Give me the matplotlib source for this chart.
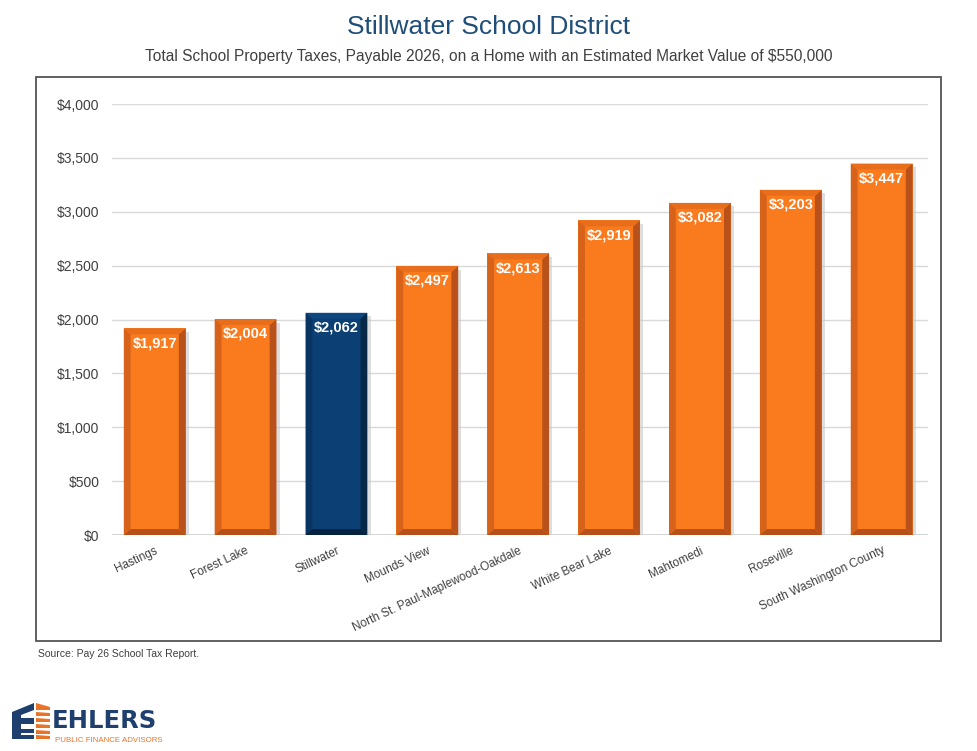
import matplotlib
matplotlib.use("Agg")
import matplotlib.pyplot as plt
from matplotlib.patches import Polygon, Rectangle

categories = ["Hastings", "Forest Lake", "Stillwater", "Mounds View",
              "North St. Paul-Maplewood-Oakdale", "White Bear Lake",
              "Mahtomedi", "Roseville", "South Washington County"]
values = [1917, 2004, 2062, 2497, 2613, 2919, 3082, 3203, 3447]
highlight = "Stillwater"
yticks = [0, 500, 1000, 1500, 2000, 2500, 3000, 3500, 4000]

plt.rcParams['font.family'] = ['Liberation Sans', 'DejaVu Sans']

fig = plt.figure(figsize=(9.77, 7.51), dpi=100)
fig.patch.set_facecolor("white")

# outer frame
fig.patches.append(Rectangle((36/977, 1-641/751), (941-36)/977, (641-77)/751,
                             transform=fig.transFigure, fill=False,
                             edgecolor="#555555", linewidth=1.3))

ax = fig.add_axes([112/977, 1-535/751, (928-112)/977, (535-104)/751])
ax.set_xlim(-0.47, len(categories) - 0.49)
ax.set_ylim(0, 4000)
ax.set_yticks(yticks)
ax.set_yticklabels([f"${v:,}" for v in yticks], color="#404040", fontsize=10)
ax.grid(axis="y", color="#D9D9D9", linewidth=1)
ax.set_axisbelow(True)
for s in ax.spines.values():
    s.set_visible(False)
ax.tick_params(axis="y", length=0, pad=9)
ax.tick_params(axis="x", length=0, pad=7)
ax.set_xticks(range(len(categories)))
ax.set_xticklabels(categories, rotation=25, ha="right", rotation_mode="anchor",
                   color="#404040", fontsize=8.5)
ax.axhline(0, color="#D0D0D0", linewidth=1.2, zorder=1)

w = 0.68
bx = 0.075   # bevel width in category units
by = 55      # bevel height in data units
for i, (c, v) in enumerate(zip(categories, values)):
    if c == highlight:
        main, left, right, top, bot = "#0C3F73", "#0A3461", "#072847", "#0E4680", "#062240"
    else:
        main, left, right, top, bot = "#FA7A1E", "#D7631A", "#B8521A", "#E86E1C", "#B5501A"
    x0, x1 = i - w/2, i + w/2
    # shadow
    ax.add_patch(Rectangle((x1, 0), 0.035, v - by*0.6, facecolor="#C9C9C9",
                           edgecolor="none", alpha=0.6, zorder=2))
    ax.bar(i, v, width=w, color=main, zorder=3, linewidth=0)
    ax.add_patch(Polygon([(x0, 0), (x0, v), (x0+bx, v-by), (x0+bx, by)],
                         facecolor=left, edgecolor="none", zorder=4))
    ax.add_patch(Polygon([(x1, 0), (x1, v), (x1-bx, v-by), (x1-bx, by)],
                         facecolor=right, edgecolor="none", zorder=4))
    ax.add_patch(Polygon([(x0, v), (x1, v), (x1-bx, v-by), (x0+bx, v-by)],
                         facecolor=top, edgecolor="none", zorder=4))
    ax.add_patch(Polygon([(x0, 0), (x1, 0), (x1-bx, by), (x0+bx, by)],
                         facecolor=bot, edgecolor="none", zorder=4))
    ax.annotate(f"${v:,}", (i, v), xytext=(0, -5.5), textcoords="offset points",
                ha="center", va="top", color="white", fontsize=10.5,
                fontweight="bold", zorder=5)

fig.text(0.5, 1-27/751, "Stillwater School District", ha="center", va="center",
         color="#1F4E79", fontsize=19)
fig.text(0.5, 1-56/751,
         "Total School Property Taxes, Payable 2026, on a Home with an Estimated Market Value of $550,000",
         ha="center", va="center", color="#404040", fontsize=11.2)
fig.text(38/977, 1-654/751, "Source: Pay 26 School Tax Report.", ha="left",
         va="center", color="#404040", fontsize=7.5)

# logo (pixel-like coordinates: x px, y = 751 - py)
lax = fig.add_axes([0, 0, 180/977, 56/751])
lax.set_xlim(0, 180)
lax.set_ylim(0, 56)
lax.axis("off")
navy = "#1F3F6E"
orng = "#E8742A"
def P(x, py):
    return (x, 751 - py)
lax.add_patch(Polygon([P(12, 712), P(34, 703), P(34, 710), P(21, 715), P(21, 718),
                       P(34, 718), P(34, 724), P(21, 724), P(21, 729), P(34, 729),
                       P(34, 739), P(12, 739)],
                      facecolor=navy, edgecolor="none"))
lax.add_patch(Polygon([P(21, 733), P(34, 733), P(34, 735), P(21, 735)],
                      facecolor="white", edgecolor="none"))
for k, py in enumerate([706, 712, 718, 724, 730, 735]):
    top_l = py - (3 if k == 0 else 0)
    lax.add_patch(Polygon([P(36, top_l), P(50, py + 1), P(50, py + 4), P(36, py + 4)],
                          facecolor=orng, edgecolor="none"))
lax.text(52, 751 - 728, "EHLERS", ha="left", va="baseline", color=navy,
         fontsize=17.5, fontweight="bold", family=["DejaVu Sans"])
lax.text(55, 751 - 742, "PUBLIC FINANCE ADVISORS", ha="left", va="baseline",
         color=orng, fontsize=5.7)

fig.savefig("out.png", dpi=100, facecolor="white")
